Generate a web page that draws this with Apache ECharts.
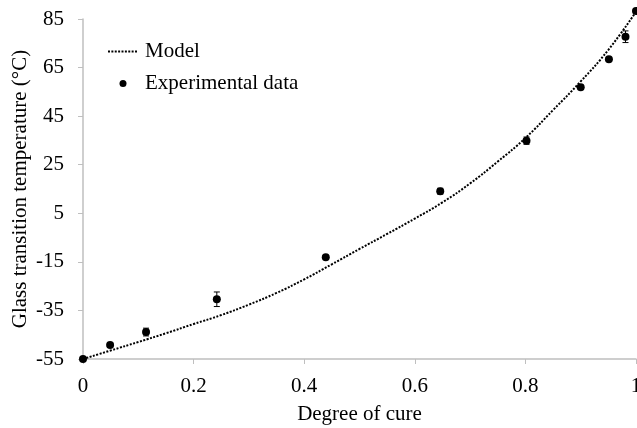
<!DOCTYPE html>
<html>
<head>
<meta charset="utf-8">
<script src="https://cdn.jsdelivr.net/npm/echarts@6/dist/echarts.min.js"></script>
<style>
  html, body { margin: 0; padding: 0; background: #fff; }
  #chart { width: 637px; height: 428px; }
</style>
</head>
<body>
<div id="chart"></div>
<script>
// model curve
var modelX = [0, 0.05, 0.1, 0.15, 0.2, 0.25, 0.3, 0.35, 0.4, 0.45, 0.5, 0.55, 0.6, 0.65, 0.7, 0.75, 0.8, 0.85, 0.9, 0.95, 1.0];
var modelY = [-55, -51.5, -48, -44.4, -40.6, -36.9, -32.6, -27.8, -22.2, -16, -9.7, -3.5, 2.8, 9.5, 17.3, 26.3, 36, 47.5, 59.3, 72.3, 88];

// experimental points
var expX = [0, 0.049, 0.114, 0.242, 0.439, 0.646, 0.802, 0.9, 0.951, 0.981, 1.0];
var expY = [-55, -49.2, -43.9, -30.4, -13.1, 14.1, 34.9, 56.9, 68.4, 77.7, 88.3];
var expErr = [0.4, 0.8, 1.6, 3.0, 0.5, 1.2, 1.5, 0.8, 0.5, 2.4, 0.5];

var xTicks = ['0', '0.2', '0.4', '0.6', '0.8', '1'];

var font = "'Liberation Serif', 'Times New Roman', serif";
var fs = 21;
var axisGray = '#bfbfbf';

// dotted legend icon, small squares in a row
var dotIcon = 'path://';
for (var k = 0; k < 9; k++) {
    dotIcon += 'M' + (k * 3.4).toFixed(1) + ',0h2v2h-2z';
}

var chart = echarts.init(document.getElementById('chart'));

var modelData = modelX.map(function (x, i) { return [x, modelY[i]]; });
var expData = expX.map(function (x, i) { return [x, expY[i]]; });
var errData = expX.map(function (x, i) { return [x, expY[i] - expErr[i], expY[i] + expErr[i]]; });

chart.setOption({
    animation: false,
    textStyle: { fontFamily: font, color: '#000' },
    grid: { left: 83, right: 1, top: 19, bottom: 69, outerBoundsMode: 'none', containLabel: false },
    legend: [
        {
            data: [{ name: 'Model', icon: dotIcon }],
            left: 103, top: 36,
            itemWidth: 29, itemHeight: 2,
            textStyle: { fontFamily: font, fontSize: fs, color: '#000', padding: [0, 0, 0, 3] }
        },
        {
            data: ['Experimental data'],
            left: 114.5, top: 68,
            itemWidth: 7, itemHeight: 7,
            textStyle: { fontFamily: font, fontSize: fs, color: '#000', padding: [0, 0, 0, 13.5] }
        }
    ],
    xAxis: {
        type: 'value',
        min: 0, max: 1, interval: 0.2,
        name: 'Degree of cure',
        nameLocation: 'middle',
        nameGap: 45,
        nameMoveOverlap: false,
        nameTextStyle: { fontFamily: font, fontSize: fs, color: '#000' },
        axisLine: { onZero: false, lineStyle: { color: axisGray, width: 1.5 } },
        axisTick: { show: true, length: 5, lineStyle: { color: axisGray } },
        axisLabel: {
            fontFamily: font, fontSize: fs, color: '#000', margin: 17,
            formatter: function (v) { return xTicks[Math.round(v / 0.2)]; }
        },
        splitLine: { show: false }
    },
    yAxis: {
        type: 'value',
        min: -55, max: 85, interval: 20,
        name: 'Glass transition temperature (°C)',
        nameLocation: 'middle',
        nameGap: 52,
        nameMoveOverlap: false,
        nameTextStyle: { fontFamily: font, fontSize: fs, color: '#000' },
        axisLine: { show: true, onZero: false, lineStyle: { color: axisGray, width: 1.5 } },
        axisTick: { show: true, length: 5, lineStyle: { color: axisGray } },
        axisLabel: { fontFamily: font, fontSize: fs, color: '#000', margin: 19 },
        splitLine: { show: false }
    },
    series: [
        {
            name: 'Model',
            type: 'line',
            data: modelData,
            smooth: true,
            symbol: 'none',
            showSymbol: false,
            clip: false,
            lineStyle: { color: '#000', width: 2, type: [2, 1.5], cap: 'butt' },
            itemStyle: { color: '#000' },
            z: 2
        },
        {
            name: 'Experimental data',
            type: 'scatter',
            data: expData,
            symbol: 'circle',
            symbolSize: 8,
            clip: false,
            itemStyle: { color: '#000', opacity: 1 },
            z: 4
        },
        {
            name: 'errors',
            type: 'custom',
            data: errData,
            clip: false,
            z: 3,
            renderItem: function (params, api) {
                var x = api.value(0);
                var lo = api.coord([x, api.value(1)]);
                var hi = api.coord([x, api.value(2)]);
                var cap = 3;
                var style = { stroke: '#000', lineWidth: 1 };
                return {
                    type: 'group',
                    children: [
                        { type: 'line', shape: { x1: lo[0], y1: lo[1], x2: hi[0], y2: hi[1] }, style: style },
                        { type: 'line', shape: { x1: lo[0] - cap, y1: lo[1], x2: lo[0] + cap, y2: lo[1] }, style: style },
                        { type: 'line', shape: { x1: hi[0] - cap, y1: hi[1], x2: hi[0] + cap, y2: hi[1] }, style: style }
                    ]
                };
            }
        }
    ]
});
</script>
</body>
</html>
